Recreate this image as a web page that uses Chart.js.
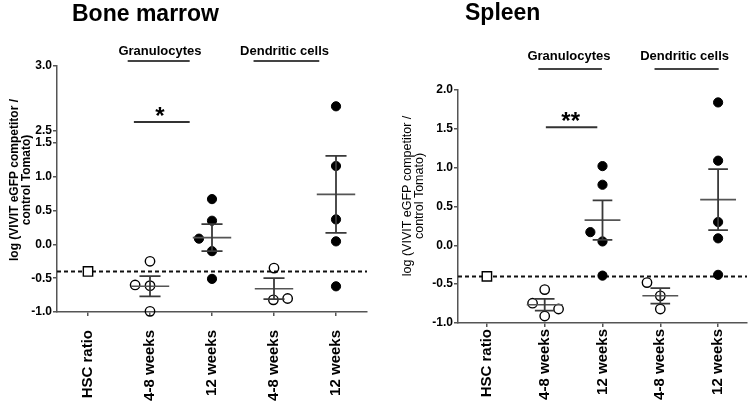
<!DOCTYPE html>
<html><head><meta charset="utf-8">
<script src="https://cdn.jsdelivr.net/npm/chart.js@4"></script>
<style>
html,body{margin:0;padding:0;background:#fff;}
#wrap{position:relative;width:755px;height:403px;overflow:hidden;background:#fff;}
canvas{position:absolute;top:0;}
</style></head>
<body><div id="wrap"><canvas id="bm" width="375" height="403" style="left:0"></canvas><canvas id="sp" width="380" height="403" style="left:375px"></canvas></div>
<script>
// ---------------- data ----------------
const categories = ['HSC ratio', '4-8 weeks', '12 weeks', '4-8 weeks', '12 weeks'];
const groupLabels = ['Granulocytes', 'Dendritic cells'];
const yTitle = ['log (VIVIT eGFP competitor /', 'control Tomato)'];
const yTicksBM = [-1.0, -0.5, 0.0, 0.5, 1.0, 1.5, 2.5, 3.0];
const yTicksSP = [-1.0, -0.5, 0.0, 0.5, 1.0, 1.5, 2.0];
const hscRatio = -0.4;

// Bone marrow
const bmGran48 = [-0.25, -0.60, -0.61, -0.99];
const bmGran48Jit = [0, -0.24, 0, 0];
const bmGran12 = [0.67, 0.35, 0.085, -0.10, -0.51];
const bmGran12Jit = [0, 0, -0.21, 0, 0];
const bmDC48 = [-0.35, -0.82, -0.80];
const bmDC48Jit = [0, -0.01, 0.22];
const bmDC12 = [2.69, 1.16, 0.37, 0.045, -0.62];
const bmDC12Jit = [0, 0, 0, 0, 0];
const bmMean = [-0.62, 0.10, -0.655, 0.74];
const bmSem = [0.15, 0.20, 0.155, 0.57];
const bmSig = {label: '*', from: 0.74, to: 1.64, y: 2.57, at: 1.16};

// Spleen
const spGran48 = [-0.57, -0.745, -0.82, -0.91];
const spGran48Jit = [0, -0.21, 0.24, 0];
const spGran12 = [1.02, 0.78, 0.17, 0.05, -0.39];
const spGran12Jit = [0, 0, -0.21, 0, 0];
const spDC48 = [-0.48, -0.65, -0.82];
const spDC48Jit = [-0.23, 0, 0];
const spDC12 = [1.84, 1.09, 0.30, 0.09, -0.38];
const spDC12Jit = [0, 0, 0, 0, 0];
const spMean = [-0.765, 0.325, -0.65, 0.588];
const spSem = [0.075, 0.255, 0.10, 0.392];
const spSig = {label: '**', from: 1.02, to: 1.91, y: 1.52, at: 1.45};

// ---------------- broken axis scale ----------------
const FONT = "'Liberation Sans', Arial, sans-serif";
const brk = {lowMin: -1, lowMax: 1.5, highMin: 2.5, highMax: 3.0, lowFrac: 169/246, gapFrac: 12/246};
class BrokenScale extends Chart.LinearScale {
  static id = 'brokenLinear';
  buildTicks() { return yTicksBM.map(v => ({value: v})); }
  getPixelForValue(v) {
    const H = this.bottom - this.top;
    const lowH = H * brk.lowFrac, gap = H * brk.gapFrac, highH = H - lowH - gap;
    if (v <= brk.lowMax) return this.bottom - (v - brk.lowMin) / (brk.lowMax - brk.lowMin) * lowH;
    if (v >= brk.highMin) return this.bottom - lowH - gap - (v - brk.highMin) / (brk.highMax - brk.highMin) * highH;
    return this.bottom - lowH - (v - brk.lowMax) / (brk.highMin - brk.lowMax) * gap;
  }
  getValueForPixel(p) {
    const H = this.bottom - this.top;
    const lowH = H * brk.lowFrac, gap = H * brk.gapFrac, highH = H - lowH - gap;
    const d = this.bottom - p;
    if (d <= lowH) return brk.lowMin + d / lowH * (brk.lowMax - brk.lowMin);
    if (d >= lowH + gap) return brk.highMin + (d - lowH - gap) / highH * (brk.highMax - brk.highMin);
    return brk.lowMax + (d - lowH) / gap * (brk.highMin - brk.lowMax);
  }
}
Chart.register(BrokenScale);

function pts(vals, jit, cat) { return vals.map((v, i) => ({x: cat + jit[i], y: v})); }
function openSet(vals, jit, cat) {
  return {data: pts(vals, jit, cat), pointStyle: 'circle', pointRadius: 4.7, pointBackgroundColor: 'rgba(0,0,0,0)',
    pointBorderColor: '#000', pointBorderWidth: 1.4, showLine: false, clip: false};
}
function filledSet(vals, jit, cat) {
  return {data: pts(vals, jit, cat), pointStyle: 'circle', pointRadius: 4.6, pointBackgroundColor: '#000',
    pointBorderColor: '#000', pointBorderWidth: 1, showLine: false, clip: false};
}
function hscSet() {
  return {data: [{x: 0, y: hscRatio}], pointStyle: 'rect', pointRadius: 6.6, pointBackgroundColor: '#fff',
    pointBorderColor: '#000', pointBorderWidth: 1.4, showLine: false, clip: false};
}

function decor(cfg) {
  return {
    id: 'decor',
    beforeDatasetsDraw(chart) {
      const {ctx, chartArea, scales: {y}} = chart;
      const py = y.getPixelForValue(hscRatio);
      ctx.save();
      ctx.strokeStyle = '#111'; ctx.lineWidth = 2; ctx.setLineDash([4, 3]);
      ctx.beginPath(); ctx.moveTo(chartArea.left, py); ctx.lineTo(chartArea.right, py); ctx.stroke();
      ctx.restore();
    },
    afterDatasetsDraw(chart) {
      const {ctx, scales: {x, y}} = chart;
      const unit = x.getPixelForValue(1) - x.getPixelForValue(0);
      ctx.save();
      cfg.mean.forEach((m, i) => {
        const cx = x.getPixelForValue(i + 1);
        const hw = unit * 0.31, cw = unit * 0.17;
        const pm = y.getPixelForValue(m), pt = y.getPixelForValue(m + cfg.sem[i]), pb = y.getPixelForValue(m - cfg.sem[i]);
        ctx.strokeStyle = '#555'; ctx.lineWidth = 1.6;
        ctx.beginPath(); ctx.moveTo(cx - hw, pm); ctx.lineTo(cx + hw, pm); ctx.stroke();
        ctx.strokeStyle = '#3a3a3a'; ctx.lineWidth = 1.8;
        ctx.beginPath();
        ctx.moveTo(cx, pt); ctx.lineTo(cx, pb);
        ctx.moveTo(cx - cw, pt); ctx.lineTo(cx + cw, pt);
        ctx.moveTo(cx - cw, pb); ctx.lineTo(cx + cw, pb);
        ctx.stroke();
      });
      ctx.restore();
    },
    afterDraw(chart) {
      const {ctx, scales: {x, y}} = chart;
      ctx.save();
      ctx.fillStyle = '#000';
      // panel title
      ctx.font = 'bold 23px ' + FONT; ctx.textAlign = 'left'; ctx.textBaseline = 'alphabetic';
      ctx.fillText(cfg.title, cfg.titleX, cfg.titleY);
      // group headers
      ctx.font = 'bold 13px ' + FONT; ctx.textAlign = 'center';
      cfg.headers.forEach((h, i) => {
        ctx.fillText(groupLabels[i], x.getPixelForValue(h.at), cfg.headerTextY);
        ctx.strokeStyle = '#444'; ctx.lineWidth = 2;
        ctx.beginPath(); ctx.moveTo(x.getPixelForValue(h.from), cfg.headerLineY);
        ctx.lineTo(x.getPixelForValue(h.to), cfg.headerLineY); ctx.stroke();
      });
      // significance
      const sy = y.getPixelForValue(cfg.sig.y);
      ctx.strokeStyle = '#333'; ctx.lineWidth = 2;
      ctx.beginPath(); ctx.moveTo(x.getPixelForValue(cfg.sig.from), sy); ctx.lineTo(x.getPixelForValue(cfg.sig.to), sy); ctx.stroke();
      ctx.font = 'bold 24px ' + FONT;
      ctx.fillText(cfg.sig.label, x.getPixelForValue(cfg.sig.at), sy + 2);
      // y title
      ctx.font = cfg.yTitleFont;
      ctx.textBaseline = 'middle';
      yTitle.forEach((t, i) => {
        ctx.save(); ctx.translate(cfg.yTitleX[i], cfg.yTitleY); ctx.rotate(-Math.PI / 2);
        ctx.fillText(t, 0, 0); ctx.restore();
      });
      ctx.restore();
    }
  };
}

function makeChart(id, datasets, yScale, cfg) {
  return new Chart(document.getElementById(id), {
    type: 'scatter',
    data: {datasets},
    options: {
      responsive: false, animation: false, events: [],
      layout: {padding: cfg.padding},
      plugins: {legend: {display: false}, tooltip: {enabled: false}, title: {display: false}},
      scales: {
        x: {
          type: 'linear', min: -0.5, max: 4.5,
          afterBuildTicks: s => { s.ticks = categories.map((c, i) => ({value: i})); },
          afterFit: s => { s.height = cfg.xHeight; },
          grid: {display: true, drawOnChartArea: false, drawTicks: true, tickLength: 4, color: '#555', lineWidth: 1.5},
          border: {display: true, color: '#555', width: 1.5},
          ticks: {autoSkip: false, minRotation: 90, maxRotation: 90, padding: cfg.xPad, color: '#000',
            font: {family: FONT, size: 15, weight: 'bold'}, callback: v => categories[Math.round(v)]}
        },
        y: Object.assign({
          afterFit: s => { s.width = cfg.yWidth; },
          grid: {display: true, drawOnChartArea: false, drawTicks: true, tickLength: 4, color: '#555', lineWidth: 1.5},
          border: {display: true, color: '#555', width: 1.5},
          ticks: {autoSkip: false, padding: 1, color: '#000', font: {family: FONT, size: 12, weight: 'bold'},
            callback: v => Number(v).toFixed(1)}
        }, yScale)
      }
    },
    plugins: [decor(cfg)]
  });
}

makeChart('bm', [
  hscSet(),
  openSet(bmGran48, bmGran48Jit, 1),
  filledSet(bmGran12, bmGran12Jit, 2),
  openSet(bmDC48, bmDC48Jit, 3),
  filledSet(bmDC12, bmDC12Jit, 4)
], {type: 'brokenLinear', min: -1, max: 3}, {
  padding: {top: 66, right: 7, bottom: 0, left: 0}, yWidth: 57, xHeight: 91, xPad: 14,
  mean: bmMean, sem: bmSem, sig: bmSig,
  title: 'Bone marrow', titleX: 72, titleY: 21,
  headers: [{from: 0.64, to: 1.64, at: 1.16}, {from: 2.67, to: 3.73, at: 3.17}],
  headerTextY: 55, headerLineY: 61,
  yTitleFont: 'bold 12px ' + FONT, yTitleX: [15, 27], yTitleY: 180
});

makeChart('sp', [
  hscSet(),
  openSet(spGran48, spGran48Jit, 1),
  filledSet(spGran12, spGran12Jit, 2),
  openSet(spDC48, spDC48Jit, 3),
  filledSet(spDC12, spDC12Jit, 4)
], {type: 'linear', min: -1, max: 2, afterBuildTicks: s => { s.ticks = yTicksSP.map(v => ({value: v})); }}, {
  padding: {top: 90, right: 1, bottom: 0, left: 0}, yWidth: 83, xHeight: 80, xPad: 2,
  mean: spMean, sem: spSem, sig: spSig,
  title: 'Spleen', titleX: 90, titleY: 20,
  headers: [{from: 0.89, to: 1.99, at: 1.42}, {from: 2.90, to: 4.01, at: 3.42}],
  headerTextY: 60, headerLineY: 69,
  yTitleFont: '12.5px ' + FONT, yTitleX: [33, 45], yTitleY: 196
});
</script>
</body></html>
